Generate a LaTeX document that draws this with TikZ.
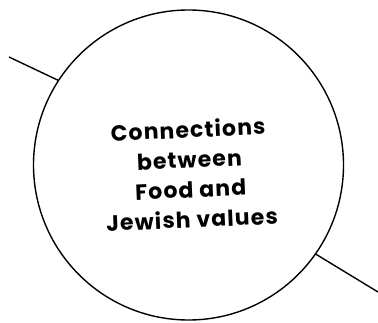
\documentclass[tikz,border=0pt]{standalone}
\usepackage{fontspec}
\setmainfont{Poppins}[LetterSpace=5]
\begin{document}
\begin{tikzpicture}[x=1pt,y=1pt,line width=1.4pt,
  hub/.style={draw=black,circle,minimum size=310pt,inner sep=0pt},
  lbl/.style={align=center,font=\fontsize{22}{30}\selectfont\bfseries,rotate=2.5}]
\useasboundingbox (0,0) rectangle (378,322);
\node[hub] (c) at (188.5,157) {};
\node[lbl] at (190,148) {Connections\\between\\Food and\\Jewish values};
\coordinate (a) at (9,265);
\coordinate (b) at (378,30);
\draw (a) -- (c.{atan2(240.3-157,58.3-188.5)});
\draw (b) -- (c.{atan2(66.3-157,316.7-188.5)});
\end{tikzpicture}
\end{document}
